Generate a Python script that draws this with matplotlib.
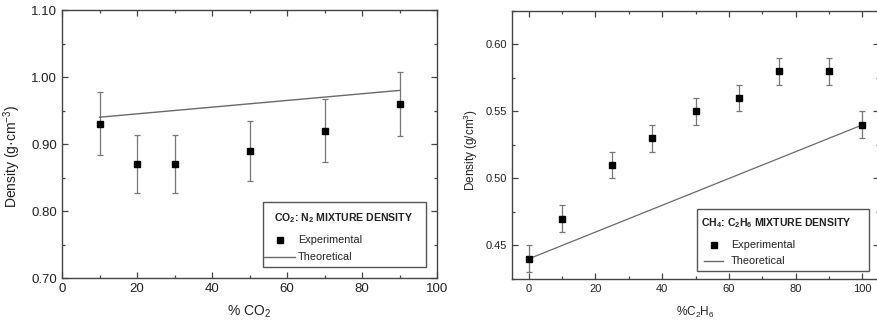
import matplotlib
matplotlib.use("Agg")
import matplotlib.pyplot as plt
from matplotlib.ticker import MultipleLocator, FormatStrFormatter
from matplotlib.patches import Rectangle

plt.rcParams['font.family'] = ['Liberation Sans', 'DejaVu Sans']
plt.rcParams['mathtext.fontset'] = 'custom'
plt.rcParams['mathtext.rm'] = 'Liberation Sans'
plt.rcParams['mathtext.it'] = 'Liberation Sans:italic'
plt.rcParams['mathtext.bf'] = 'Liberation Sans:bold'

# CO2 : N2 mixture
co2_pct = [10, 20, 30, 50, 70, 90]
co2_exp = [0.93, 0.87, 0.87, 0.89, 0.92, 0.96]
co2_err = [0.047, 0.043, 0.043, 0.045, 0.047, 0.048]
co2_theo = [0.94, 0.945, 0.95, 0.96, 0.97, 0.98]

# CH4 : C2H6 mixture
c2h6_pct = [0, 10, 25, 37, 50, 63, 75, 90, 100]
c2h6_exp = [0.44, 0.47, 0.51, 0.53, 0.55, 0.56, 0.58, 0.58, 0.54]
c2h6_err = [0.01, 0.01, 0.01, 0.01, 0.01, 0.01, 0.01, 0.01, 0.01]
c2h6_theo_x = [0, 100]
c2h6_theo = [0.44, 0.54]

TXT = '#222222'
SPINE = '#444444'
ERR = '#777777'
LINE = '#6a6a6a'

fig = plt.figure(figsize=(8.77, 3.27), dpi=100)
ax1 = fig.add_axes([0.0707, 0.1498, 0.4276, 0.8196])
ax2 = fig.add_axes([0.5838, 0.1468, 0.4185, 0.8196])


def style(ax, fs):
    for s in ax.spines.values():
        s.set_color(SPINE)
        s.set_linewidth(1.0)
    ax.tick_params(which='both', direction='in', top=True, right=True,
                   colors=SPINE, labelcolor=TXT, labelsize=fs, width=0.9)
    ax.tick_params(which='major', length=4)
    ax.tick_params(which='minor', length=2.5)


def mixture_key(ax, title, box, title_pos, marker_pos, line_seg, text_x, line_y, fs=7.8):
    """Framed key with a bold title, a square-marker entry and a line entry."""
    tr = ax.transAxes
    x0, y0, x1, y1 = box
    ax.add_patch(Rectangle((x0, y0), x1 - x0, y1 - y0, transform=tr,
                           facecolor='white', edgecolor='#555555',
                           linewidth=1.0, zorder=5))
    ax.text(title_pos[0], title_pos[1], title, transform=tr, fontsize=7.6,
            fontweight='bold', color=TXT, va='center', ha='left', zorder=6)
    ax.plot([marker_pos[0]], [marker_pos[1]], 's', color='black',
            markersize=3.8, transform=tr, zorder=6, clip_on=False)
    ax.text(text_x, marker_pos[1], 'Experimental', transform=tr, fontsize=fs,
            color=TXT, va='center', ha='left', zorder=6)
    ax.plot(line_seg, [line_y, line_y], color=LINE, linewidth=1.0,
            transform=tr, zorder=6, clip_on=False)
    ax.text(text_x, line_y, 'Theoretical', transform=tr, fontsize=fs,
            color=TXT, va='center', ha='left', zorder=6)


# Left panel
style(ax1, 9.5)
ax1.errorbar(co2_pct, co2_exp, yerr=co2_err, fmt='none', ecolor=ERR,
             elinewidth=0.9, capsize=2.4, capthick=0.9, zorder=2)
ax1.plot(co2_pct, co2_theo, color=LINE, linewidth=1.0, zorder=3)
ax1.plot(co2_pct, co2_exp, 's', color='black', markersize=5, zorder=4)
ax1.set_xlim(0, 100)
ax1.set_ylim(0.70, 1.10)
ax1.xaxis.set_major_locator(MultipleLocator(20))
ax1.xaxis.set_minor_locator(MultipleLocator(10))
ax1.yaxis.set_major_locator(MultipleLocator(0.10))
ax1.yaxis.set_minor_locator(MultipleLocator(0.05))
ax1.yaxis.set_major_formatter(FormatStrFormatter('%.2f'))
ax1.set_xlabel('% CO$_2$', fontsize=10, color=TXT, labelpad=6)
ax1.set_ylabel('Density (g·cm$^{-3}$)', fontsize=10, color=TXT)
ax1.yaxis.set_label_coords(-0.104, 0.455)
mixture_key(ax1, 'CO$_\\mathbf{2}$: N$_\\mathbf{2}$ MIXTURE DENSITY',
            box=(0.536, 0.041, 0.971, 0.284), title_pos=(0.565, 0.224),
            marker_pos=(0.581, 0.142), line_seg=(0.539, 0.621),
            text_x=0.629, line_y=0.078)

# Right panel
style(ax2, 8)
ax2.errorbar(c2h6_pct, c2h6_exp, yerr=c2h6_err, fmt='none', ecolor=ERR,
             elinewidth=0.9, capsize=2.2, capthick=0.9, zorder=2)
ax2.plot(c2h6_theo_x, c2h6_theo, color=LINE, linewidth=0.9, zorder=3)
ax2.plot(c2h6_pct, c2h6_exp, 's', color='black', markersize=4.6, zorder=4)
ax2.set_xlim(-5, 105)
ax2.set_ylim(0.425, 0.625)
ax2.xaxis.set_major_locator(MultipleLocator(20))
ax2.xaxis.set_minor_locator(MultipleLocator(10))
ax2.yaxis.set_major_locator(MultipleLocator(0.05))
ax2.yaxis.set_minor_locator(MultipleLocator(0.025))
ax2.yaxis.set_major_formatter(FormatStrFormatter('%.2f'))
ax2.set_xlabel('%C$_2$H$_6$', fontsize=8.5, color=TXT, labelpad=8)
ax2.set_ylabel('Density (g/cm$^3$)', fontsize=8.5, color=TXT)
ax2.yaxis.set_label_coords(-0.087, 0.48)
mixture_key(ax2, 'CH$_\\mathbf{4}$: C$_\\mathbf{2}$H$_\\mathbf{6}$ MIXTURE DENSITY',
            box=(0.504, 0.030, 0.973, 0.261), title_pos=(0.515, 0.209),
            marker_pos=(0.550, 0.127), line_seg=(0.523, 0.575),
            text_x=0.597, line_y=0.067)

fig.savefig('out.png', dpi=100)
